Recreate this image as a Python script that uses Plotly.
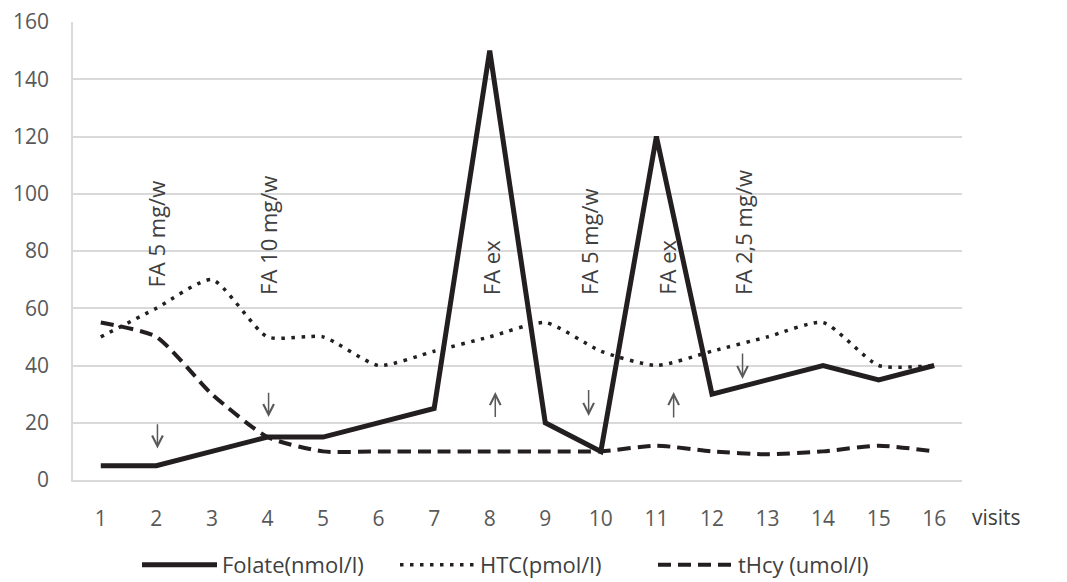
import plotly.graph_objects as go

visits = list(range(1, 17))
folate = [5, 5, 10, 15, 15, 20, 25, 150, 20, 10, 120, 30, 35, 40, 35, 40]
htc = [50, 60, 70, 50, 50, 40, 45, 50, 55, 45, 40, 45, 50, 55, 40, 40]
thcy = [55, 50, 30, 15, 10, 10, 10, 10, 10, 10, 12, 10, 9, 10, 12, 10]

notes = ["FA 5 mg/w", "FA 10 mg/w", "FA ex", "FA 5 mg/w", "FA ex", "FA 2,5 mg/w"]
note_x = [2.0, 4.02, 8.02, 9.8, 11.2, 12.57]
note_y = [66.5, 64, 64, 64, 64, 64]

# arrows: (x, tail y, tip y)
arrow_x = [2.02, 4.02, 8.1, 9.78, 11.31, 12.55]
arrow_tail = [20, 31, 21.5, 32, 21.3, 44.7]
arrow_tip = [11, 22, 30.7, 22.4, 30.7, 35.3]

FONT = "Open Sans"
DARK = "#231f20"
GREY = "#595959"

OFF = 8  # page body margin
W, H = 1067 - OFF, 582 - OFF
L, R, T, B = 73 - OFF, 962 - OFF, 22 - OFF, 480 - OFF

fig = go.Figure()
fig.add_trace(go.Scatter(x=visits, y=folate, name="Folate(nmol/l)", mode="lines",
                         line=dict(color=DARK, width=5)))
fig.add_trace(go.Scatter(x=visits, y=htc, name="HTC(pmol/l)", mode="lines",
                         line=dict(color=DARK, width=3.5, dash="3.5px,6.5px", shape="spline", smoothing=0.6)))
fig.add_trace(go.Scatter(x=visits, y=thcy, name="tHcy (umol/l)", mode="lines",
                         line=dict(color=DARK, width=4, dash="13px,7px", shape="spline", smoothing=0.6)))

anns = []
for t, x, y in zip(notes, note_x, note_y):
    anns.append(dict(x=x, y=y, xref="x", yref="y", text=t, textangle=-90, showarrow=False,
                     xanchor="center", yanchor="bottom", font=dict(family=FONT, size=22, color="#404040")))
for x, t0, t1 in zip(arrow_x, arrow_tail, arrow_tip):
    anns.append(dict(x=x, y=t1, ax=x, ay=t0, xref="x", yref="y", axref="x", ayref="y", text="",
                     showarrow=True, arrowhead=5, arrowsize=1.4, arrowwidth=1.5, arrowcolor=GREY))
anns.append(dict(x=(997 - OFF - L) / (R - L), y=(B - (517 - OFF)) / (B - T), xref="paper", yref="paper",
                 xanchor="center", yanchor="middle",
                 text="visits", showarrow=False, font=dict(family=FONT, size=21, color="#404040")))

fig.update_layout(
    width=W, height=H,
    margin=dict(l=L, r=W - R, t=T, b=H - B, autoexpand=False),
    paper_bgcolor="white", plot_bgcolor="white",
    font=dict(family=FONT, size=21, color=GREY),
    xaxis=dict(range=[0.5, 16.5], tickvals=visits, showgrid=False, zeroline=False,
               showline=True, linecolor="#d9d9d9", linewidth=1.5, ticks="",
               ticklabelstandoff=19, ticklabeloverflow="allow", tickfont=dict(size=21, color=GREY)),
    yaxis=dict(range=[0, 160], dtick=20, showgrid=True, gridcolor="#d9d9d9", gridwidth=1.5,
               zeroline=False, showline=True, linecolor="#d9d9d9", linewidth=1.5, ticks="",
               ticklabelstandoff=18, ticklabeloverflow="allow", tickfont=dict(size=21, color=GREY)),
    legend=dict(orientation="h", x=(137 - OFF - L) / (R - L), xanchor="left",
                y=(B - (565 - OFF)) / (B - T), yanchor="middle",
                font=dict(size=22, color="#404040"), itemwidth=75, entrywidth=168),
    annotations=anns,
    showlegend=True,
)
fig.write_html("out.html")
